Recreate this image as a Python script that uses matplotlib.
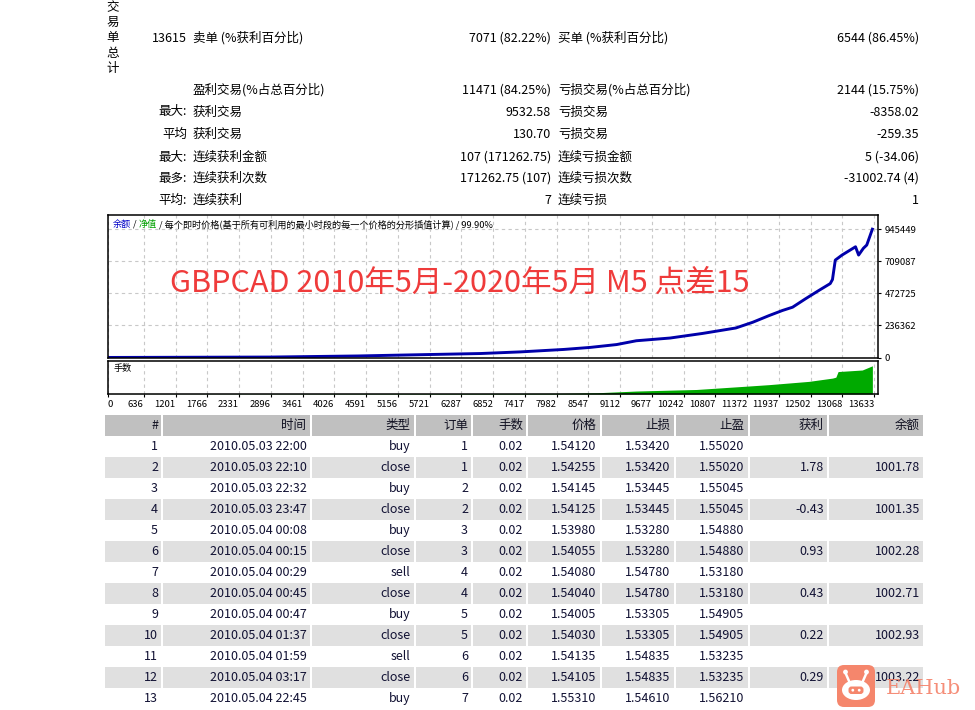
import matplotlib
matplotlib.use("Agg")
import matplotlib.pyplot as plt
from matplotlib.patches import Rectangle, FancyBboxPatch, Ellipse, Circle

plt.rcParams["font.family"] = ["Noto Sans CJK SC", "DejaVu Sans"]

W, H = 975, 710

# ---- summary block ----
side_title = "交易单总计"
sum_label = ["13615", "", "最大:", "平均", "最大:", "最多:", "平均:"]
sum_left_name = ["卖单 (%获利百分比)", "盈利交易(%占总百分比)", "获利交易", "获利交易",
                 "连续获利金额", "连续获利次数", "连续获利"]
sum_left_value = ["7071 (82.22%)", "11471 (84.25%)", "9532.58", "130.70",
                  "107 (171262.75)", "171262.75 (107)", "7"]
sum_right_name = ["买单 (%获利百分比)", "亏损交易(%占总百分比)", "亏损交易", "亏损交易",
                  "连续亏损金额", "连续亏损次数", "连续亏损"]
sum_right_value = ["6544 (86.45%)", "2144 (15.75%)", "-8358.02", "-259.35",
                   "5 (-34.06)", "-31002.74 (4)", "1"]

# ---- balance / lots chart ----
legend_parts = [("余额", "#0000c8"), (" / ", "#000000"), ("净值", "#00a000"),
                (" / 每个即时价格(基于所有可利用的最小时段的每一个价格的分形插值计算) / 99.90%", "#000000")]
chart_title = "GBPCAD 2010年5月-2020年5月 M5 点差15"
x_ticks = [0, 636, 1201, 1766, 2331, 2896, 3461, 4026, 4591, 5156, 5721, 6287, 6852,
           7417, 7982, 8547, 9112, 9677, 10242, 10807, 11372, 11937, 12502, 13068, 13633]
y_ticks = [0, 236362, 472725, 709087, 945449]

trade_no = [0, 2900, 4450, 5280, 6630, 7340, 8110, 8580, 9050, 9400, 10000, 10580,
            11170, 11470, 11760, 12000, 12180, 12410, 12650, 12850, 12890, 12940,
            13060, 13300, 13355, 13440, 13500, 13600]
balance = [1000, 4000, 12000, 19000, 30000, 42000, 60000, 75000, 96000, 124000, 144000,
           178000, 218000, 260000, 309000, 347000, 371000, 433000, 495000, 545000,
           575000, 718000, 755000, 816000, 755000, 805000, 829000, 945449]

lot_trade = [0, 8030, 8700, 9400, 10470, 11350, 11760, 12470, 12890, 12950, 12990,
             13420, 13600]
lot_size = [0.02, 0.4, 0.8, 1.9, 2.9, 5.0, 6.0, 8.1, 10.2, 10.8, 14.4, 15.4, 18.1]

# ---- deal table ----
headers = ["#", "时间", "类型", "订单", "手数", "价格", "止损", "止盈", "获利", "余额"]
deal_no = [str(i) for i in range(1, 14)]
deal_time = ["2010.05.03 22:00", "2010.05.03 22:10", "2010.05.03 22:32", "2010.05.03 23:47",
             "2010.05.04 00:08", "2010.05.04 00:15", "2010.05.04 00:29", "2010.05.04 00:45",
             "2010.05.04 00:47", "2010.05.04 01:37", "2010.05.04 01:59", "2010.05.04 03:17",
             "2010.05.04 22:45"]
deal_type = ["buy", "close", "buy", "close", "buy", "close", "sell", "close", "buy",
             "close", "sell", "close", "buy"]
deal_order = ["1", "1", "2", "2", "3", "3", "4", "4", "5", "5", "6", "6", "7"]
deal_lots = ["0.02"] * 13
deal_price = ["1.54120", "1.54255", "1.54145", "1.54125", "1.53980", "1.54055", "1.54080",
              "1.54040", "1.54005", "1.54030", "1.54135", "1.54105", "1.55310"]
deal_sl = ["1.53420", "1.53420", "1.53445", "1.53445", "1.53280", "1.53280", "1.54780",
           "1.54780", "1.53305", "1.53305", "1.54835", "1.54835", "1.54610"]
deal_tp = ["1.55020", "1.55020", "1.55045", "1.55045", "1.54880", "1.54880", "1.53180",
           "1.53180", "1.54905", "1.54905", "1.53235", "1.53235", "1.56210"]
deal_profit = ["", "1.78", "", "-0.43", "", "0.93", "", "0.43", "", "0.22", "", "0.29", ""]
deal_balance = ["", "1001.78", "", "1001.35", "", "1002.28", "", "1002.71", "",
                "1002.93", "", "1003.22", ""]


def px(x, y):
    return x / W, 1 - y / H


fig = plt.figure(figsize=(W / 100, H / 100), dpi=100)
fig.patch.set_facecolor("white")

# background axes in pixel units (y down) for the report text and table
bg = fig.add_axes([0, 0, 1, 1])
bg.set_xlim(0, W)
bg.set_ylim(H, 0)
bg.axis("off")

txt = dict(fontsize=9, color="#000000", va="center")
for i, ch in enumerate(side_title):
    bg.text(113, 7.5 + 15.2 * i, ch, ha="center", **txt)

row_y = [38, 90, 112, 134, 157, 178, 200]
for i, y in enumerate(row_y):
    bg.text(187, y, sum_label[i], ha="right", **txt)
    bg.text(193, y, sum_left_name[i], ha="left", **txt)
    bg.text(551, y, sum_left_value[i], ha="right", **txt)
    bg.text(558, y, sum_right_name[i], ha="left", **txt)
    bg.text(919, y, sum_right_value[i], ha="right", **txt)

# table
col_edges = [104, 162, 310.5, 414.5, 472, 527, 600.5, 674.5, 748.5, 828, 924]
head_top, row_h = 415, 21
columns = [deal_no, deal_time, deal_type, deal_order, deal_lots, deal_price,
           deal_sl, deal_tp, deal_profit, deal_balance]
for j, name in enumerate(headers):
    l, r = col_edges[j], col_edges[j + 1]
    bg.add_patch(Rectangle((l + 1, head_top), r - l - 2, row_h, color="#c0c0c0", lw=0))
    bg.text(r - 4, head_top + row_h / 2, name, ha="right", va="center", fontsize=9,
            color="#111122")
for k in range(len(deal_no)):
    top = head_top + row_h * (k + 1)
    for j, col in enumerate(columns):
        l, r = col_edges[j], col_edges[j + 1]
        if k % 2 == 1:
            bg.add_patch(Rectangle((l + 1, top), r - l - 2, row_h, color="#e0e0e0", lw=0))
        bg.text(r - 4, top + row_h / 2, col[k], ha="right", va="center", fontsize=9,
                color="#111133")

# watermark
bg.add_patch(FancyBboxPatch((837, 665), 38, 42, boxstyle="round,pad=0,rounding_size=7",
                            fc="#f5866c", ec="none", zorder=5))
bg.add_patch(Ellipse((856, 690), 28, 20, fc="white", ec="none", zorder=6))
for dx in (-7, 7):
    bg.plot([856 + dx, 856 + dx * 1.5], [681, 673], color="white", lw=1.8, zorder=6)
    bg.add_patch(Circle((856 + dx * 1.5, 672), 2.4, fc="white", ec="none", zorder=6))
bg.add_patch(FancyBboxPatch((848.5, 686.5), 15, 7.5, boxstyle="round,pad=0,rounding_size=3",
                            fc="#f5866c", ec="none", zorder=7))
for dx in (-3.2, 3.2):
    bg.add_patch(Circle((856 + dx, 690.2), 1.4, fc="white", ec="none", zorder=8))
bg.text(886, 688, "EAHub", ha="left", va="center", fontsize=15, family="DejaVu Serif",
        color="#f4826a", alpha=0.9, zorder=9)

# balance panel
grid_kw = dict(color="#c8c8c8", ls=(0, (3, 3)), lw=0.8)
ax = fig.add_axes([108 / W, 1 - 358 / H, 770 / W, 143 / H])
ax.set_facecolor("none")
ax.plot(trade_no, balance, color="#0000aa", lw=2.1, solid_joinstyle="round")
ax.set_xlim(0, 13700)
ax.set_ylim(-3000, 1050000)
ax.set_xticks(x_ticks)
ax.set_yticks(y_ticks)
ax.yaxis.tick_right()
ax.set_yticklabels([str(v) for v in y_ticks], fontsize=6.8)
ax.tick_params(axis="x", length=0, labelbottom=False)
ax.tick_params(axis="y", length=2, pad=3)
ax.grid(True, **grid_kw)
ax.set_axisbelow(True)
for s in ax.spines.values():
    s.set_linewidth(1.1)

# lots panel
ax2 = fig.add_axes([108 / W, 1 - 394 / H, 770 / W, 33.5 / H])
ax2.fill_between(lot_trade, lot_size, color="#00aa00", lw=0)
ax2.set_xlim(0, 13700)
ax2.set_ylim(0, 21.5)
ax2.set_yticks([])
ax2.set_xticks(x_ticks)
ax2.set_xticklabels([str(v) for v in x_ticks], fontsize=6.8)
ax2.tick_params(axis="x", length=2, pad=2)
for i, lab in enumerate(ax2.get_xticklabels()):
    lab.set_ha("left" if i == 0 else "right")
ax2.grid(axis="x", **grid_kw)
ax2.set_axisbelow(True)
for s in ax2.spines.values():
    s.set_linewidth(1.1)
ax2.text(0.007, 0.75, "手数", transform=ax2.transAxes, fontsize=6.6, va="center")

# legend line above the gridlines, pieces chained by their drawn width
renderer = fig.canvas.get_renderer()
x0 = 113
for part, color in legend_parts:
    t = fig.text(*px(x0, 224), part, color=color, fontsize=6.6, va="center", zorder=10)
    x0 = t.get_window_extent(renderer).x1

fig.text(*px(170, 283), chart_title, color="#ef3b3b", fontsize=22, va="center",
         ha="left", zorder=10)

fig.savefig("out.png", dpi=100)
